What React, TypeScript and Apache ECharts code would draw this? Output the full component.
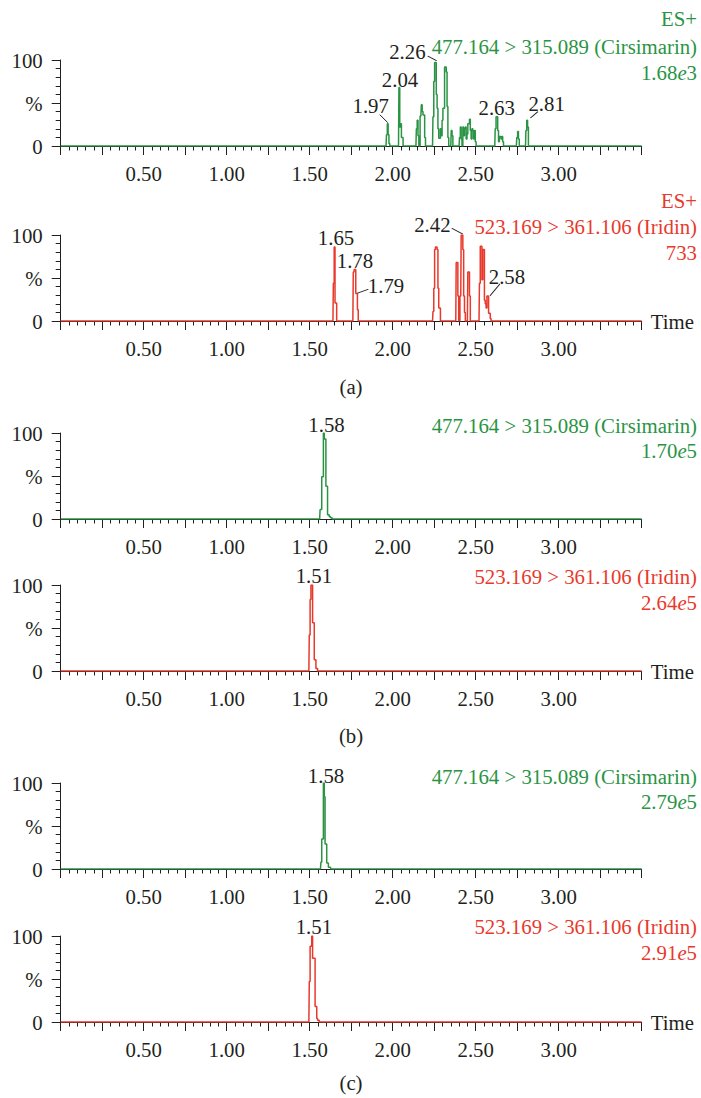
import React, { useEffect, useRef } from 'react';
import * as echarts from 'echarts';

const FONT = '"Liberation Serif", "DejaVu Serif", serif';
const FS = 20.8;
const GREEN = '#2a9444';
const RED = '#e8392c';
const INK = '#231f20';

// x tick labels shown on every time axis
const xTickLabels = ['0.50', '1.00', '1.50', '2.00', '2.50', '3.00'];

// (a) blank plasma – 477.164 > 315.089 (Cirsimarin), 1.68e3
const cirsimarinA: number[][] = [
  [0, 0], [1.96, 0], [1.965, 13], [1.97, 26], [1.975, 13], [1.98, 3], [1.985, 0],
  [2.035, 0], [2.04, 68], [2.045, 22], [2.05, 26], [2.055, 10], [2.06, 10], [2.065, 0],
  [2.14, 0], [2.145, 20], [2.15, 30], [2.155, 12], [2.16, 0], [2.17, 35], [2.175, 48], [2.18, 40], [2.185, 36], [2.19, 36], [2.195, 10], [2.2, 0],
  [2.24, 0], [2.245, 34], [2.25, 75], [2.255, 97], [2.26, 97], [2.265, 60], [2.27, 44], [2.275, 20], [2.28, 9], [2.285, 9], [2.29, 20], [2.295, 12], [2.3, 30], [2.305, 44], [2.31, 44], [2.315, 92], [2.32, 92], [2.325, 86], [2.33, 46], [2.335, 10], [2.34, 0],
  [2.35, 0], [2.355, 18], [2.36, 12], [2.365, 0],
  [2.4, 0], [2.405, 10], [2.41, 22], [2.415, 8], [2.42, 0], [2.425, 22], [2.43, 12], [2.435, 20], [2.44, 22], [2.445, 8], [2.45, 14], [2.455, 26], [2.46, 26], [2.465, 31], [2.47, 18], [2.475, 8], [2.48, 20], [2.485, 18], [2.49, 8], [2.495, 18], [2.5, 5], [2.505, 0],
  [2.615, 0], [2.62, 20], [2.625, 34], [2.63, 34], [2.635, 18], [2.64, 5], [2.645, 11], [2.65, 11], [2.655, 8], [2.66, 11], [2.665, 5], [2.67, 0],
  [2.745, 0], [2.75, 10], [2.755, 17], [2.76, 8], [2.765, 0],
  [2.8, 0], [2.805, 18], [2.81, 30], [2.815, 22], [2.82, 0],
  [3.5, 0],
];

// (a) blank plasma – 523.169 > 361.106 (Iridin), 733
const iridinA: number[][] = [
  [0, 0], [1.64, 0], [1.645, 44], [1.65, 86], [1.655, 21], [1.66, 21], [1.665, 0],
  [1.76, 0], [1.765, 57], [1.77, 60], [1.775, 60], [1.78, 32], [1.785, 32], [1.79, 13], [1.795, 0],
  [2.24, 0], [2.245, 11], [2.25, 38], [2.255, 83], [2.26, 86], [2.265, 86], [2.27, 83], [2.275, 38], [2.28, 15], [2.285, 15], [2.29, 0],
  [2.38, 0], [2.385, 68], [2.39, 68], [2.395, 29], [2.4, 0], [2.41, 29], [2.415, 100], [2.42, 100], [2.425, 83], [2.43, 29], [2.435, 10], [2.44, 0],
  [2.45, 0], [2.455, 57], [2.46, 57], [2.465, 29], [2.47, 0],
  [2.52, 0], [2.525, 44], [2.53, 87], [2.535, 87], [2.54, 48], [2.545, 83], [2.55, 83], [2.555, 24], [2.56, 20], [2.565, 15], [2.57, 29], [2.575, 29], [2.58, 9], [2.585, 9], [2.59, 3], [2.595, 0],
  [3.5, 0],
];

// (b)
const cirsimarinB: number[][] = [
  [0, 0], [1.56, 0], [1.565, 11], [1.57, 11], [1.575, 49], [1.58, 49], [1.585, 100], [1.59, 93], [1.595, 93], [1.6, 38], [1.605, 38], [1.61, 5], [1.615, 5], [1.62, 3], [1.63, 1.5], [1.64, 0],
  [3.5, 0],
];
const iridinB: number[][] = [
  [0, 0], [1.495, 0], [1.5, 42], [1.505, 83], [1.51, 100], [1.515, 100], [1.52, 56], [1.525, 56], [1.53, 13], [1.535, 13], [1.54, 3], [1.545, 3], [1.55, 0],
  [3.5, 0],
];

// (c)
const cirsimarinC: number[][] = [
  [0, 0], [1.565, 0], [1.57, 8], [1.575, 35], [1.58, 35], [1.585, 100], [1.59, 84], [1.595, 29], [1.6, 29], [1.605, 7], [1.61, 7], [1.615, 2], [1.625, 2], [1.63, 0],
  [3.5, 0],
];
const iridinC: number[][] = [
  [0, 0], [1.495, 0], [1.5, 47], [1.505, 88], [1.51, 88], [1.515, 100], [1.52, 74], [1.525, 74], [1.53, 74], [1.535, 18], [1.54, 18], [1.545, 4], [1.55, 2], [1.555, 2], [1.56, 0],
  [3.5, 0],
];

// peak annotations: [time, intensity, text]
const peaksA1: [number, number, string][] = [[1.97, 26, '1.97'], [2.04, 68, '2.04'], [2.26, 97, '2.26'], [2.63, 34, '2.63'], [2.81, 30, '2.81']];
const peaksA2: [number, number, string][] = [[1.65, 86, '1.65'], [1.775, 60, '1.78'], [1.785, 32, '1.79'], [2.42, 100, '2.42'], [2.575, 29, '2.58']];
const peaksB1: [number, number, string][] = [[1.585, 100, '1.58']];
const peaksB2: [number, number, string][] = [[1.515, 100, '1.51']];
const peaksC1: [number, number, string][] = [[1.585, 100, '1.58']];
const peaksC2: [number, number, string][] = [[1.515, 100, '1.51']];

// label layout (pixel offsets from the peak point), kept apart from the data
type Lay = { dx: number; dy: number; leader?: { cx: number; cy: number; w: number; h: number; dir: 'dr' | 'ur' } };
const labelLayout: Record<string, Lay>[] = [
  {
    '1.97': { dx: -17, dy: -18, leader: { cx: -4, cy: -5, w: 8, h: 8, dir: 'dr' } },
    '2.04': { dx: 0.7, dy: -8.5 },
    '2.26': { dx: -28.5, dy: -11, leader: { cx: -3.7, cy: -4.2, w: 9, h: 4.7, dir: 'dr' } },
    '2.63': { dx: -0.6, dy: -9.5 },
    '2.81': { dx: 19.5, dy: -17, leader: { cx: 7, cy: -5.4, w: 7.5, h: 6.3, dir: 'ur' } },
  },
  {
    '1.65': { dx: 1.4, dy: -9.3 },
    '1.78': { dx: -0.4, dy: -9.4 },
    '1.79': { dx: 29, dy: -7.5, leader: { cx: 5.8, cy: -2.2, w: 11, h: 4, dir: 'ur' } },
    '2.42': { dx: -30, dy: -11, leader: { cx: -5.2, cy: -3.85, w: 11, h: 5.7, dir: 'dr' } },
    '2.58': { dx: 18.8, dy: -20, leader: { cx: 6.8, cy: -6.1, w: 10, h: 12, dir: 'ur' } },
  },
  { '1.58': { dx: 2.7, dy: -8.5 } },
  { '1.51': { dx: 1.7, dy: -9.5 } },
  { '1.58': { dx: 2.2, dy: -8 } },
  { '1.51': { dx: 1.7, dy: -9.5 } },
];

const seriesData = [cirsimarinA, iridinA, cirsimarinB, iridinB, cirsimarinC, iridinC];
const peakData = [peaksA1, peaksA2, peaksB1, peaksB2, peaksC1, peaksC2];
const seriesColor = [GREEN, RED, GREEN, RED, GREEN, RED];
const showTimeName = [false, true, false, true, false, true];

const GRID_TOPS = [60, 235, 433, 585, 783, 936];
const GRID_H = 86;
const GRID_LEFT = 60.7;
const GRID_W = 581;

function markData(peaks: [number, number, string][], lay: Record<string, Lay>) {
  const out: any[] = [];
  peaks.forEach(([t, v, text]) => {
    const l = lay[text];
    out.push({
      coord: [t, v],
      symbol: 'rect',
      symbolSize: 1,
      itemStyle: { color: 'rgba(0,0,0,0)' },
      label: {
        show: true,
        position: 'inside',
        offset: [l.dx, l.dy],
        formatter: text,
        color: INK,
        fontSize: FS,
        fontFamily: FONT,
      },
    });
    if (l.leader) {
      const ld = l.leader;
      out.push({
        coord: [t, v],
        symbol: ld.dir === 'dr' ? 'path://M0,0L10,10' : 'path://M0,10L10,0',
        symbolSize: [ld.w, ld.h],
        symbolOffset: [ld.cx, ld.cy],
        itemStyle: { color: 'none', borderColor: INK, borderWidth: 1 },
        label: { show: false },
      });
    }
  });
  return out;
}

function txt(x: number, y: number, text: string, color: string, align: string, italicE = false): any {
  if (italicE) {
    const m = text.split('e');
    return {
      type: 'text',
      x,
      y,
      silent: true,
      style: {
        text: `{n|${m[0]}}{i|e}{n|${m[1]}}`,
        fill: color,
        fontSize: FS,
        fontFamily: FONT,
        align,
        verticalAlign: 'middle',
        rich: {
          n: { fontSize: FS, fontFamily: FONT, fill: color },
          i: { fontSize: FS, fontFamily: FONT, fontStyle: 'italic', fill: color },
        },
      },
    };
  }
  return {
    type: 'text',
    x,
    y,
    silent: true,
    style: { text, fill: color, fontSize: FS, fontFamily: FONT, align, verticalAlign: 'middle' },
  };
}

export default function App() {
  const ref = useRef<HTMLDivElement>(null);
  useEffect(() => {
    if (!ref.current) return;
    const chart = echarts.init(ref.current, undefined, { renderer: 'svg' });
    const grids = GRID_TOPS.map((top) => ({ left: GRID_LEFT, top, width: GRID_W, height: GRID_H }));
    const xAxes = GRID_TOPS.map((_, i) => ({
      type: 'value',
      gridIndex: i,
      min: 0,
      max: 3.5,
      interval: 0.25,
      name: showTimeName[i] ? 'Time' : '',
      nameLocation: 'end',
      nameGap: 9,
      nameTextStyle: { color: INK, fontSize: FS, fontFamily: FONT, align: 'left', verticalAlign: 'middle' },
      axisLine: { show: true, lineStyle: { color: INK, width: 1 } },
      axisTick: { show: true, length: 9, lineStyle: { color: INK, width: 1 } },
      minorTick: { show: true, splitNumber: 5, length: 4.5, lineStyle: { color: INK, width: 1 } },
      splitLine: { show: false },
      axisLabel: {
        show: true,
        margin: 17,
        color: INK,
        fontSize: FS,
        fontFamily: FONT,
        formatter: (v: number) => {
          const s = v.toFixed(2);
          return xTickLabels.includes(s) ? s : '';
        },
      },
    }));
    const yAxes = GRID_TOPS.map((_, i) => ({
      type: 'value',
      gridIndex: i,
      min: 0,
      max: 100,
      interval: 50,
      axisLine: { show: true, lineStyle: { color: INK, width: 1 } },
      axisTick: { show: true, length: 9, lineStyle: { color: INK, width: 1 } },
      minorTick: { show: true, splitNumber: 5, length: 5, lineStyle: { color: INK, width: 1 } },
      splitLine: { show: false },
      axisLabel: {
        show: true,
        margin: 18,
        color: INK,
        fontSize: FS,
        fontFamily: FONT,
        formatter: (v: number) => (v === 50 ? '%' : String(v)),
      },
    }));
    const series = seriesData.map((d, i) => ({
      type: 'line',
      xAxisIndex: i,
      yAxisIndex: i,
      data: d,
      step: 'middle',
      showSymbol: false,
      symbol: 'none',
      lineStyle: { color: seriesColor[i], width: 1.5 },
      itemStyle: { color: seriesColor[i] },
      silent: true,
      markPoint: {
        silent: true,
        data: markData(peakData[i], labelLayout[i]),
      },
    }));
    const RX = 697;
    const graphic = [
      txt(RX, 18, 'ES+', GREEN, 'right'),
      txt(RX, 46, '477.164 > 315.089 (Cirsimarin)', GREEN, 'right'),
      txt(RX, 72, '1.68e3', GREEN, 'right', true),
      txt(RX, 200, 'ES+', RED, 'right'),
      txt(RX, 226, '523.169 > 361.106 (Iridin)', RED, 'right'),
      txt(RX, 252, '733', RED, 'right'),
      txt(351, 386, '(a)', INK, 'center'),
      txt(RX, 425, '477.164 > 315.089 (Cirsimarin)', GREEN, 'right'),
      txt(RX, 450.5, '1.70e5', GREEN, 'right', true),
      txt(RX, 576.5, '523.169 > 361.106 (Iridin)', RED, 'right'),
      txt(RX, 602, '2.64e5', RED, 'right', true),
      txt(351, 735, '(b)', INK, 'center'),
      txt(RX, 776, '477.164 > 315.089 (Cirsimarin)', GREEN, 'right'),
      txt(RX, 801.5, '2.79e5', GREEN, 'right', true),
      txt(RX, 926.5, '523.169 > 361.106 (Iridin)', RED, 'right'),
      txt(RX, 952.5, '2.91e5', RED, 'right', true),
      txt(351, 1082, '(c)', INK, 'center'),
    ];
    chart.setOption({
      animation: false,
      backgroundColor: '#ffffff',
      grid: grids,
      xAxis: xAxes,
      yAxis: yAxes,
      series,
      graphic,
    });
    return () => chart.dispose();
  }, []);
  return (
    <div
      ref={ref}
      style={{ position: 'fixed', left: 0, top: 0, width: 701, height: 1098, background: '#fff' }}
    />
  );
}
